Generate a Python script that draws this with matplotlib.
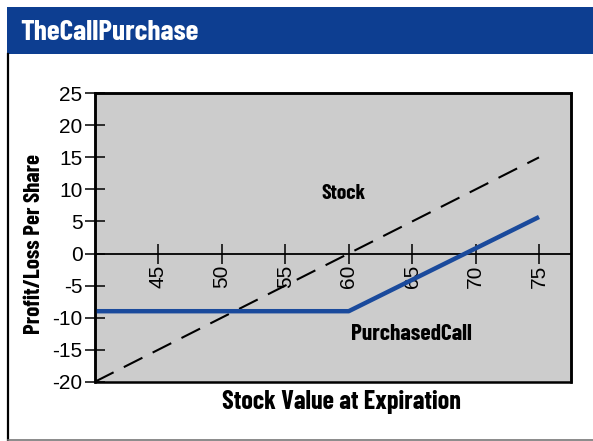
import matplotlib
matplotlib.use("Agg")
import matplotlib.pyplot as plt
from matplotlib import font_manager
from matplotlib.patches import Rectangle
from matplotlib.lines import Line2D

# ---- data ----
stock_x = [40, 75]
stock_y = [-20, 15]
call_x = [40, 60, 75]
call_y = [-9, -9, 5.7]
xticks = [45, 50, 55, 60, 65, 70, 75]
yticks = [-20, -15, -10, -5, 0, 5, 10, 15, 20, 25]
title = "TheCallPurchase"
xlabel = "Stock Value at Expiration"
ylabel = "Profit/Loss Per Share"
stock_label = "Stock"
call_label = "PurchasedCall"

names = {f.name for f in font_manager.fontManager.ttflist}
narrow = 'Liberation Sans'
for cand in ['Liberation Sans Narrow', 'Arial Narrow', 'Barlow Condensed', 'Roboto Condensed']:
    if cand in names:
        narrow = cand
        break
plt.rcParams['font.family'] = ['Liberation Sans', 'DejaVu Sans']
NF = [narrow, 'DejaVu Sans']

W, H = 593, 441
fig = plt.figure(figsize=(W / 100, H / 100), dpi=100)
fig.patch.set_facecolor('white')

def fx(px):
    return px / W

def fy(py):
    return 1 - py / H

# title bar
fig.patches.append(Rectangle((fx(7), fy(54)), fx(593) - fx(7), fy(7) - fy(54),
                             transform=fig.transFigure, facecolor='#0D3E91',
                             edgecolor='none', zorder=0))
t_title = fig.text(fx(20), fy(40), title, color='white', fontsize=22, fontweight='bold',
                   family=NF, ha='left', va='baseline')
# outer border
fig.lines.append(Line2D([fx(8), fx(8)], [fy(54), fy(440)], transform=fig.transFigure,
                        color='black', lw=1.6))
fig.lines.append(Line2D([fx(8), fx(593)], [fy(440), fy(440)], transform=fig.transFigure,
                        color='#777777', lw=1.2))

left, top, right, bottom = 95, 93.3, 570.7, 381.7
ax = fig.add_axes([fx(left), fy(bottom), fx(right) - fx(left), fy(top) - fy(bottom)])
ax.set_facecolor('#CCCCCC')
ax.set_xlim(40, 77.5)
ax.set_ylim(-20, 25)

ax.plot(stock_x, stock_y, color='black', lw=1.5, dashes=(10, 5.5), zorder=3)
ax.plot(call_x, call_y, color='#1A4A9C', lw=3.2, solid_capstyle='butt', zorder=4)

for s in ['top', 'left', 'right']:
    ax.spines[s].set_linewidth(1.8)
ax.spines['bottom'].set_position(('data', 0))
ax.spines['bottom'].set_linewidth(1.3)
ax.add_patch(Rectangle((0, 0), 1, 1, transform=ax.transAxes, fill=False,
                       edgecolor='black', lw=1.8, zorder=5, clip_on=False))

ax.set_xticks(xticks)
ax.set_xticklabels([str(t) for t in xticks], rotation=90, fontsize=15)
ax.set_yticks(yticks)
ax.set_yticklabels([str(t) for t in yticks], fontsize=15)
ax.tick_params(axis='x', direction='inout', length=14, width=1.1, pad=1)
ax.tick_params(axis='y', direction='inout', length=14, width=1.1, pad=2)

t_stock = ax.text(59.6, 8.5, stock_label, fontsize=16, fontweight='bold',
                  family=NF, ha='center', va='baseline', zorder=6)
t_call = ax.text(64.93, -13.5, call_label, fontsize=15, fontweight='bold',
                 family=NF, ha='center', va='baseline', zorder=6)

t_ylab = fig.text(fx(34), fy(244), ylabel, rotation=90, fontsize=15, fontweight='bold',
                  family=NF, ha='center', va='center')
t_xlab = fig.text(fx(341.5), fy(409), xlabel, fontsize=15, fontweight='bold',
                  family=NF, ha='center', va='baseline')

# fit text sizes to the widths measured on the reference (pixels)
fits = [(t_title, 178, False), (t_stock, 44, False), (t_call, 121, False),
        (t_ylab, 180, True), (t_xlab, 239, False)]
for _ in range(2):
    fig.canvas.draw()
    r = fig.canvas.get_renderer()
    for t, target, vert in fits:
        bb = t.get_window_extent(r)
        size = bb.height if vert else bb.width
        t.set_fontsize(t.get_fontsize() * target / size)

fig.savefig('out.png', dpi=100)
